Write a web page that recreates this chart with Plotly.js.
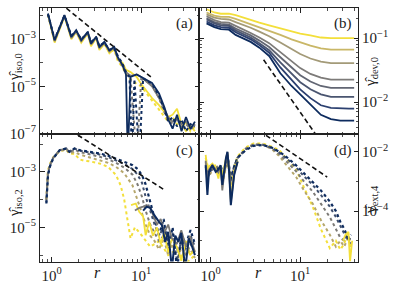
<!DOCTYPE html>
<html><head><meta charset="utf-8">
<script src="https://cdn.plot.ly/plotly-3.0.1.min.js"></script>
<style>html,body{margin:0;padding:0;background:#fff}#c{width:399px;height:287px}</style>
</head><body><div id="c"></div>
<script>
// ---------- panel (a): gamma_iso,0 ----------
const rIso0 = [0.91,1.08,1.39,1.66,1.88,2.14,2.53,2.75,3.14,3.41,3.88,4.41,5.0,5.46,6.19,6.76,7.08,7.6,8.9,10,11.5,13.2,15.8,18.2,20,22.4,25.1,28.2,31.6,35.5,39.8];
const rIso0Dot = [0.91,1.08,1.39,1.66,1.88,2.14,2.53,2.75,3.14,3.41,3.88,4.41,5.0,5.46,6.19,6.76,7.4,7.9,8.4,9.5,10.5,11.5,13.2,15.8,18.2,20,22.4,25.1,28.2,31.6,35.5,39.8];
const rIso0B = [0.91,1.08,1.39,1.66,1.88,2.14,2.53,2.75,3.14,3.41,3.88,4.41,5.0,5.46,6.19,6.76,7.6,8.9,10,11.5,13.2,15.8,18.2,20,22.4,25.1,28.2,31.6,35.5,39.8];
const iso0NavySolid = [1.23e-2,9.1e-4,1.05e-2,1.26e-3,2.4e-3,9.1e-4,2.04e-3,6.6e-4,1.26e-3,4.7e-4,7.8e-4,3.4e-4,4.7e-4,1.78e-4,7.9e-5,3.16e-5,1e-8,2.5e-5,3.2e-5,2.5e-5,2.0e-5,1.4e-5,5.0e-6,1.26e-6,4.0e-7,1.6e-7,6.3e-7,1.26e-7,5.0e-7,1.6e-7,3.2e-7];
const iso0NavyDot = [1.12e-2,1.0e-3,1.0e-2,1.41e-3,2.24e-3,1.0e-3,1.9e-3,7.6e-4,1.17e-3,5.2e-4,7.1e-4,3.5e-4,4.2e-4,2.0e-4,8.9e-5,4.0e-5,2.5e-5,1e-8,2.0e-5,1e-8,2.2e-5,1.8e-5,1.26e-5,4.0e-6,1.0e-6,3.2e-7,5.0e-7,2.0e-7,4.0e-7,1.26e-7,2.5e-7,2.0e-7];
const iso0YellowSolid = [1.12e-2,7.1e-4,9.5e-3,1.0e-3,2.0e-3,7.1e-4,1.78e-3,5.0e-4,1.12e-3,3.5e-4,6.3e-4,2.5e-4,4.0e-4,1.41e-4,1.0e-4,5.0e-5,4.0e-5,2.5e-5,1.26e-5,6.3e-6,3.2e-6,1.6e-6,7.9e-7,5.0e-7,6.3e-7,1.12e-6,2.5e-7,1.26e-7,2.0e-7,1.26e-7];
const iso0GreySolid = [1.17e-2,8.3e-4,1.0e-2,1.12e-3,2.2e-3,8.3e-4,1.9e-3,6.0e-4,1.2e-3,4.2e-4,7.1e-4,3.0e-4,4.4e-4,1.6e-4,7.9e-5,4.0e-5,2.8e-5,3.2e-5,2.5e-5,1.6e-5,1.0e-5,3.2e-6,1.0e-6,5.0e-7,3.2e-7,4.0e-7,2.5e-7,3.2e-7,1.6e-7,2.5e-7];
const iso0YellowDot = [1.07e-2,7.9e-4,9.3e-3,1.12e-3,2.0e-3,7.9e-4,1.78e-3,5.6e-4,1.07e-3,4.0e-4,6.3e-4,2.8e-4,3.5e-4,1.26e-4,6.3e-5,3.2e-5,2.0e-5,1.26e-5,1.0e-5,5.0e-6,2.5e-6,1.0e-6,5.0e-7,3.2e-7,5.0e-7,2.5e-7,1.6e-7,3.2e-7,1.26e-7,2.0e-7];
const iso0GreyDot = [1.1e-2,8.9e-4,9.5e-3,1.26e-3,2.1e-3,8.9e-4,1.86e-3,6.3e-4,1.12e-3,4.5e-4,6.6e-4,3.2e-4,3.8e-4,1.6e-4,7.1e-5,3.2e-5,2.2e-5,1e-8,2.0e-5,1.6e-5,1.12e-5,3.2e-6,7.9e-7,4.0e-7,2.5e-7,4.0e-7,2.0e-7,2.5e-7,1.6e-7,2.0e-7];
const iso0DashR = [1.46, 12.8];
const iso0DashY = [2.04e-2, 2.5e-5];

// ---------- panel (b): gamma_dev,0 ----------
const rDev = [0.9,1.1,1.3,1.6,1.9,2.3,2.8,3.5,4.5,6,8,10,13,17,22,28,35,40];
const dev1 = [0.282,0.251,0.240,0.240,0.229,0.209,0.191,0.174,0.158,0.141,0.126,0.117,0.110,0.102,0.100,0.100,0.100,0.100];
const dev2 = [0.251,0.224,0.214,0.214,0.200,0.182,0.166,0.148,0.132,0.112,0.0955,0.0851,0.0759,0.0692,0.0661,0.0661,0.0661,0.0661];
const dev3 = [0.234,0.209,0.200,0.195,0.178,0.162,0.145,0.126,0.107,0.0851,0.0676,0.0562,0.0479,0.0427,0.0407,0.0407,0.0407,0.0407];
const dev4 = [0.219,0.191,0.178,0.174,0.155,0.138,0.120,0.102,0.0832,0.0603,0.0437,0.0339,0.0275,0.0240,0.0224,0.0224,0.0224,0.0224];
const dev5 = [0.204,0.178,0.166,0.162,0.141,0.126,0.110,0.0912,0.0724,0.0501,0.0347,0.0263,0.0209,0.0178,0.0166,0.0166,0.0166,0.0166];
const dev6 = [0.195,0.170,0.158,0.155,0.132,0.117,0.102,0.0832,0.0646,0.0417,0.0275,0.0204,0.0158,0.0132,0.0120,0.0120,0.0120,0.0120];
const dev7 = [0.182,0.158,0.148,0.145,0.123,0.110,0.0955,0.0776,0.0589,0.0347,0.0219,0.0158,0.0115,0.0089,0.0081,0.0079,0.0079,0.0079];
const dev8 = [0.170,0.148,0.138,0.135,0.112,0.100,0.0871,0.0708,0.0525,0.0282,0.0178,0.0132,0.0093,0.0063,0.0054,0.0051,0.0051,0.0051];
const devDashR = [3.9, 16];
const devDashY = [4.57e-2, 2.7e-3];

// ---------- panel (c): gamma_iso,2 ----------
const rIso2 = [0.873,0.91,0.955,1.04,1.23,1.46,1.58,1.8,2.05,2.63,3.41,4.27,5.24,6.46,8.0,9.1,10.2,11.2,12.6,14.1,15.8,17.8,20,22.4,25.1,28.2,31.6,35.5,39.8];
const iso2NavyDot = [7.2e-5,7.6e-4,1.5e-3,3.0e-3,6.0e-3,6.9e-3,5.2e-3,6.9e-3,6.0e-3,5.4e-3,4.6e-3,3.8e-3,3.0e-3,2.3e-3,1.74e-3,1.26e-3,7.6e-4,3.5e-4,8.3e-5,2.1e-5,5.2e-6,2.0e-5,1.6e-6,1.0e-5,3.2e-7,5.0e-6,2.5e-6,7.9e-6,2.5e-6];
const iso2SlateDot = [7.9e-5,7.9e-4,1.58e-3,3.2e-3,6.0e-3,6.9e-3,5.4e-3,6.8e-3,5.8e-3,5.0e-3,4.2e-3,3.4e-3,2.6e-3,1.9e-3,1.26e-3,7.9e-4,4.0e-4,1.26e-4,4.0e-5,1.26e-5,5.0e-6,1.0e-5,3.2e-6,6.3e-6,6.3e-7,4.0e-6,1.6e-6,5.0e-6,2.0e-6];
const iso2GreyDot = [1.0e-4,8.9e-4,1.66e-3,3.2e-3,6.0e-3,6.8e-3,5.0e-3,6.3e-3,5.2e-3,4.4e-3,3.5e-3,2.8e-3,2.1e-3,1.41e-3,7.9e-4,3.5e-4,1.26e-4,4.0e-5,1.26e-5,6.3e-6,3.2e-6,5.0e-6,2.0e-6,4.0e-6,1.6e-6,3.2e-6,1.0e-6,2.5e-6,1.26e-6];
const iso2KhakiDot = [1.0e-4,1.0e-3,1.78e-3,3.2e-3,5.6e-3,6.3e-3,4.5e-3,5.2e-3,4.2e-3,3.3e-3,2.6e-3,2.1e-3,1.5e-3,8.9e-4,3.2e-4,1.0e-4,3.2e-5,1.26e-5,5.0e-6,3.2e-6,1.6e-6,4.0e-6,1.0e-6,2.5e-6,6.3e-7,2.0e-6,1.0e-6,1.6e-6,7.9e-7];
const rIso2Yellow = [0.873,0.91,0.955,1.04,1.23,1.46,1.58,1.8,2.05,2.3,2.63,3.41,4.27,5.24,5.9,6.46,7.0,7.6,8.5,10.2,12.6,15.8,20,25.1,31.6,39.8];
const iso2YellowDot = [1.0e-4,1.12e-3,1.9e-3,3.3e-3,5.6e-3,6.3e-3,4.5e-3,4.5e-3,2.8e-3,2.5e-3,2.4e-3,2.0e-3,1.5e-3,7.6e-4,3.2e-4,1.0e-4,2.0e-5,4.0e-6,1.0e-5,5.0e-6,2.0e-6,3.2e-6,1.0e-6,1.6e-6,5.0e-7,1.0e-6];
const rIso2YellowSolid = [7.7,8.7,9.5,10.5,11.2,12.3,13.5,15,16.5,18,20,22,25,28,31.6,35,39.8];
const iso2YellowSolid = [6.3e-5,7.2e-5,3.6e-5,2.5e-5,5.2e-6,1.6e-5,5.0e-6,1.0e-5,2.5e-6,6.3e-6,1.26e-6,4.0e-6,2.0e-6,6.3e-7,3.2e-6,1.0e-6,1.6e-6];
const rIso2GreySolid = [8.5,9.5,10.5,11.5,12.6,13.8,15,16.5,18,20,22,25,28,31.6,35,39.8];
const iso2GreySolid = [4.0e-5,5.0e-5,5.6e-5,6.3e-5,5.0e-5,2.5e-5,1.26e-5,2.0e-5,6.3e-6,1.26e-5,4.0e-6,2.5e-6,7.9e-6,2.0e-6,5.0e-6,1.26e-6];
const rIso2NavySolid = [10.5,11.5,12.6,14,15.8,17,18.5,20,22,24,26,28,31,34,37,39.8];
const iso2NavySolid = [4.0e-5,5.5e-5,5.0e-5,2.75e-5,1.58e-5,1.2e-5,3.0e-6,6.9e-6,3.2e-7,5.0e-6,3.0e-6,6.3e-6,3.2e-7,4.0e-6,2.0e-6,1.0e-6];
const iso2DashR = [1.96, 18.3];
const iso2DashY = [2.1e-2, 2.2e-4];

// ---------- panel (d): gamma_ext,4 ----------
const rExtSolid = [0.88,0.92,0.957,1.045,1.14,1.22,1.29,1.35,1.48,1.54,1.61,1.68,1.83,2.0];
const extYellowSolid = [7.9e-3,2.5e-3,3.2e-3,4.0e-3,2.8e-3,1.26e-3,3.2e-3,1.6e-3,5.6e-3,8.9e-3,2.5e-3,2.5e-4,2.0e-3,5.0e-3];
const extGreySolid = [5.0e-3,1.0e-3,2.5e-3,3.5e-3,2.5e-3,2.0e-3,3.2e-3,5.0e-4,5.6e-3,9.5e-3,2.2e-3,2.0e-4,1.78e-3,4.8e-3];
const extNavySolid = [3.5e-3,3.5e-4,2.1e-3,3.5e-3,2.1e-3,2.5e-3,3.5e-3,7.6e-4,6.0e-3,1.0e-2,2.1e-3,1.58e-4,1.66e-3,4.6e-3];
const rExt = [0.88,0.95,1.05,1.15,1.29,1.4,1.54,1.68,1.83,2.0,2.47,3.0,3.8,4.8,5.85,7.2,9.0,11.0,13.8,17,21.4,25,28,31,34,37];
const extNavyDot = [3.2e-3,2.0e-3,3.2e-3,2.5e-3,3.2e-3,2.0e-3,7.9e-3,1.26e-3,3.2e-3,6.3e-3,1.15e-2,1.58e-2,1.7e-2,1.38e-2,1.0e-2,6.3e-3,3.5e-3,1.9e-3,1.0e-3,5.0e-4,2.1e-4,1.0e-4,4.4e-5,2.5e-5,1.26e-5,1.6e-5];
const extSlateDot = [3.5e-3,1.78e-3,2.8e-3,2.8e-3,2.8e-3,1.78e-3,7.1e-3,1.12e-3,3.2e-3,6.3e-3,1.2e-2,1.66e-2,1.74e-2,1.38e-2,9.5e-3,5.6e-3,3.0e-3,1.5e-3,7.6e-4,3.5e-4,1.41e-4,6.3e-5,3.2e-5,1.78e-5,1.0e-5,1.26e-5];
const extGreyDot = [4.0e-3,1.6e-3,2.5e-3,3.2e-3,2.5e-3,1.6e-3,6.3e-3,1.0e-3,3.2e-3,6.3e-3,1.26e-2,1.74e-2,1.74e-2,1.32e-2,8.3e-3,4.5e-3,2.2e-3,1.0e-3,4.5e-4,1.78e-4,6.3e-5,2.5e-5,1.26e-5,1.0e-5,1.6e-5,7.9e-6];
const extKhakiDot = [4.5e-3,1.41e-3,2.5e-3,3.5e-3,2.2e-3,1.41e-3,5.6e-3,7.9e-4,3.2e-3,6.3e-3,1.32e-2,1.82e-2,1.74e-2,1.26e-2,7.1e-3,3.3e-3,1.41e-3,5.0e-4,1.78e-4,5.0e-5,1.6e-5,6.3e-6,1.0e-5,6.3e-6,1.26e-5,6.3e-6];
const extYellowDot = [6.3e-3,2.5e-3,3.2e-3,3.5e-3,2.5e-3,1.26e-3,6.3e-3,6.3e-4,3.2e-3,7.1e-3,1.41e-2,1.9e-2,1.9e-2,1.5e-2,1.12e-2,5.6e-3,2.5e-3,6.3e-4,1.41e-4,2.5e-5,5.6e-6,1.0e-5,5.0e-6,7.9e-6,2.0e-5,6.3e-6];
const rExtTail = [30,32,34.5,36,38];
const extYellowTail = [1.0e-5,1.6e-5,2.0e-5,2.0e-6,1.0e-5];
const extDashR = [4.15, 20];
const extDashY = [3.6e-2, 1.4e-3];

// ---------- labels ----------
const xTickVals = [1, 10];
const xTickText = ['10<sup>0</sup>', '10<sup>1</sup>'];

const C = {navy:'#0d2b5e', slate:'#3f4f6e', grey:'#7b7975', khaki:'#b5a66b', yellow:'#f3df3a'};
const devColors = ['#f3df3a','#c9b767','#a39a78','#7d7b79','#626673','#4a5570','#2c4070','#0d2b5e'];

function line(x, y, color, dash, n, w) {
  return {x, y, type:'scatter', mode:'lines', xaxis:'x'+(n===1?'':n), yaxis:'y'+(n===1?'':n),
    line:{color, width:w||1.8, dash:dash||'solid'}, showlegend:false, hoverinfo:'skip'};
}
const dashStyle = '5px,3px';
const traces = [
  line(rIso0B, iso0YellowDot, C.yellow, 'dot', 1, 2),
  line(rIso0B, iso0YellowSolid, C.yellow, 'solid', 1),
  line(rIso0B, iso0GreyDot, C.grey, 'dot', 1, 2),
  line(rIso0B, iso0GreySolid, C.grey, 'solid', 1),
  line(rIso0Dot, iso0NavyDot, C.navy, 'dot', 1, 2),
  line(rIso0, iso0NavySolid, C.navy, 'solid', 1),
  line(iso0DashR, iso0DashY, '#111', dashStyle, 1, 1.6),

  line(rDev, dev1, devColors[0], 'solid', 2),
  line(rDev, dev2, devColors[1], 'solid', 2),
  line(rDev, dev3, devColors[2], 'solid', 2),
  line(rDev, dev4, devColors[3], 'solid', 2),
  line(rDev, dev5, devColors[4], 'solid', 2),
  line(rDev, dev6, devColors[5], 'solid', 2),
  line(rDev, dev7, devColors[6], 'solid', 2),
  line(rDev, dev8, devColors[7], 'solid', 2),
  line(devDashR, devDashY, '#111', dashStyle, 2, 1.6),

  line(rIso2Yellow, iso2YellowDot, C.yellow, 'dot', 3, 2),
  line(rIso2, iso2KhakiDot, C.khaki, 'dot', 3, 2),
  line(rIso2, iso2GreyDot, C.grey, 'dot', 3, 2),
  line(rIso2, iso2SlateDot, C.slate, 'dot', 3, 2),
  line(rIso2, iso2NavyDot, C.navy, 'dot', 3, 2.2),
  line(rIso2YellowSolid, iso2YellowSolid, C.yellow, 'solid', 3),
  line(rIso2GreySolid, iso2GreySolid, C.grey, 'solid', 3),
  line(rIso2NavySolid, iso2NavySolid, C.navy, 'solid', 3, 2),
  line(iso2DashR, iso2DashY, '#111', dashStyle, 3, 1.6),

  line(rExt, extYellowDot, C.yellow, 'dot', 4, 2),
  line(rExt, extKhakiDot, C.khaki, 'dot', 4, 2),
  line(rExt, extGreyDot, C.grey, 'dot', 4, 2),
  line(rExt, extSlateDot, C.slate, 'dot', 4, 2),
  line(rExt, extNavyDot, C.navy, 'dot', 4, 2.2),
  line(rExtSolid, extYellowSolid, C.yellow, 'solid', 4),
  line(rExtSolid, extGreySolid, C.grey, 'solid', 4),
  line(rExtSolid, extNavySolid, C.navy, 'solid', 4, 2),
  line(rExtTail, extYellowTail, C.yellow, 'solid', 4),
  line(extDashR, extDashY, '#111', dashStyle, 4, 1.6)
];

const FONT = 'Liberation Serif, DejaVu Serif, serif';
const ink = '#222';
const xMinor = {ticks:'inside', ticklen:2.5, tickcolor:ink, tickwidth:0.8, tickmode:'array', tickvals:[0.8,0.9,2,3,4,5,6,7,8,9,20,30,40]};
function xAx(domain, anchor, labels) {
  return {type:'log', domain, anchor, range:[-0.13,1.645], showline:true, linecolor:ink, linewidth:1,
    mirror:'allticks', ticks:'inside', ticklen:4.5, tickwidth:1, tickcolor:ink,
    tickmode:'array', tickvals:xTickVals, ticktext:xTickText, showticklabels:labels,
    minor:xMinor, showgrid:false, zeroline:false, tickfont:{family:FONT, size:15, color:ink}};
}
function yAx(domain, anchor, range, vals, text, minorVals, side) {
  return {type:'log', domain, anchor, range, side, showline:true, linecolor:ink, linewidth:1,
    mirror:'allticks', ticks:'inside', ticklen:4.5, tickwidth:1, tickcolor:ink,
    tickmode:'array', tickvals:vals, ticktext:text,
    minor:{ticks:'inside', ticklen:2.5, tickcolor:ink, tickwidth:0.8, tickmode:'array', tickvals:minorVals},
    showgrid:false, zeroline:false, tickfont:{family:FONT, size:15, color:ink}};
}
const xL = [40/399, 199/399], xR = [199/399, 358/399];
const yT = [1-134/287, 1-8/287], yB = [1-261.5/287, 1-134/287];

const yaVals = [1e-7,1e-5,1e-3], yaText = ['10<sup>−7</sup>','10<sup>−5</sup>','10<sup>−3</sup>'];
const yaMinor = [1e-6,1e-4,1e-2];
const ybVals = [1e-2,1e-1], ybText = ['10<sup>−2</sup>','10<sup>−1</sup>'];
const ybMinor = [4e-3,5e-3,6e-3,7e-3,8e-3,9e-3,2e-2,3e-2,4e-2,5e-2,6e-2,7e-2,8e-2,9e-2,2e-1];
const ycVals = [1e-5,1e-3], ycText = ['10<sup>−5</sup>','10<sup>−3</sup>'];
const ycMinor = [1e-6,1e-4,1e-2];
const ydVals = [1e-4,1e-2], ydText = ['10<sup>−4</sup>','10<sup>−2</sup>'];
const ydMinor = [1e-5,1e-3];

function ann(text, px, py, size, angle) {
  return {text, x:px/399, y:1-py/287, xref:'paper', yref:'paper', showarrow:false,
    xanchor:'center', yanchor:'middle', textangle:angle||0, font:{family:FONT, size:size, color:ink}};
}
const layout = {
  width:399, height:287, margin:{l:0,r:0,t:0,b:0}, paper_bgcolor:'#fff', plot_bgcolor:'#fff',
  font:{family:FONT, color:ink},
  xaxis: xAx(xL, 'y', false), yaxis: yAx(yT, 'x', [-7.02,-1.68], yaVals, yaText, yaMinor, 'left'),
  xaxis2: xAx(xR, 'y2', false), yaxis2: yAx(yT, 'x2', [-2.5,-0.53], ybVals, ybText, ybMinor, 'right'),
  xaxis3: xAx(xL, 'y3', true), yaxis3: yAx(yB, 'x3', [-6.23,-1.64], ycVals, ycText, ycMinor, 'left'),
  xaxis4: xAx(xR, 'y4', true), yaxis4: yAx(yB, 'x4', [-5.7,-1.4], ydVals, ydText, ydMinor, 'right'),
  annotations: [
    ann('(a)', 184, 23, 15), ann('(b)', 343, 23, 15), ann('(c)', 184, 150, 15), ann('(d)', 343, 150, 15),
    ann('γ\u0302<sub>iso,0</sub>', 15, 67, 15, -90),
    ann('γ\u0302<sub>iso,2</sub>', 15, 203, 15, -90),
    ann('γ\u0302<sub>dev,0</sub>', 371, 72, 15, -90),
    ann('γ\u0302<sub>ext,4</sub>', 371, 200, 15, -90),
    ann('<i>r</i>', 97, 272, 16), ann('<i>r</i>', 258, 272, 16)
  ]
};
Plotly.newPlot('c', traces, layout, {staticPlot:true, displayModeBar:false});
</script></body></html>
